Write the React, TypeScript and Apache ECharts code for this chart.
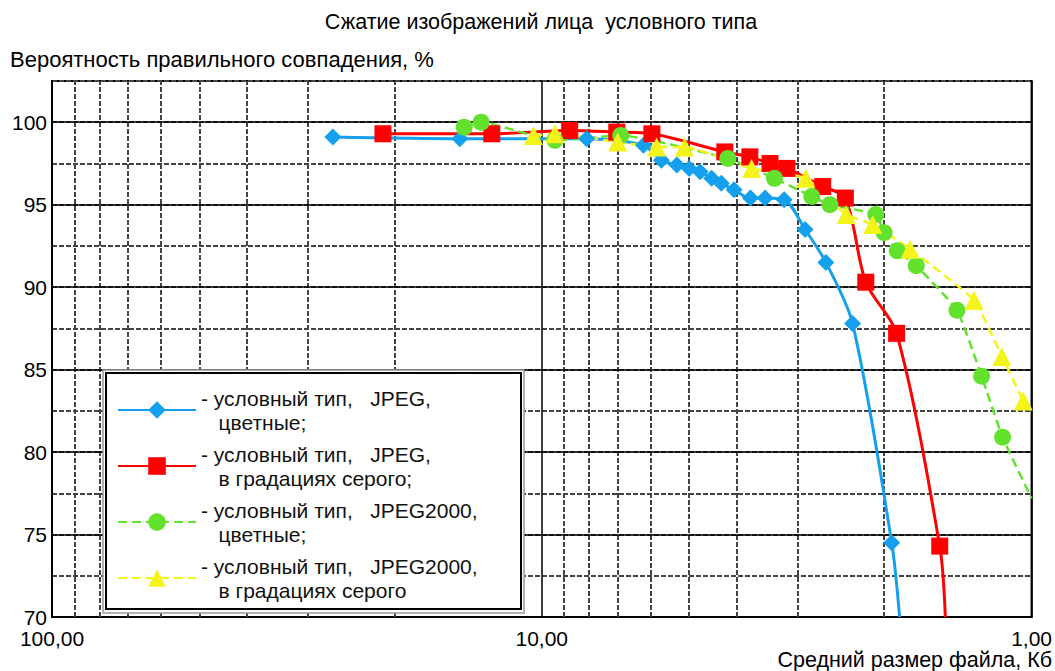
import React, { useEffect, useRef } from "react";
import * as echarts from "echarts";

// ---- data ----
const seriesNames = [
  "- условный тип,   JPEG,\n   цветные;",
  "- условный тип,   JPEG,\n   в градациях серого;",
  "- условный тип,   JPEG2000,\n   цветные;",
  "- условный тип,   JPEG2000,\n   в градациях серого",
];

const blueX = [26.7, 14.7, 8.1, 6.2, 5.7, 5.3, 5.0, 4.75, 4.5, 4.3, 4.05, 3.75, 3.5, 3.2, 2.9, 2.63, 2.32, 1.93, 1.86];
const blueY = [99.1, 99.0, 99.0, 98.6, 97.7, 97.4, 97.2, 97.0, 96.6, 96.3, 95.9, 95.4, 95.4, 95.3, 93.5, 91.5, 87.8, 74.5, 70.0];

const redX = [21.1, 12.65, 8.77, 7.03, 5.96, 4.23, 3.76, 3.42, 3.16, 2.67, 2.4, 2.18, 1.886, 1.54, 1.5];
const redY = [99.3, 99.3, 99.5, 99.4, 99.3, 98.2, 97.9, 97.5, 97.2, 96.1, 95.4, 90.3, 87.2, 74.3, 70.0];

const greenX = [14.4, 13.3, 9.4, 6.9, 4.17, 3.35, 2.81, 2.58, 2.08, 2.0, 1.88, 1.72, 1.42, 1.265, 1.146, 1.0];
const greenY = [99.7, 100.0, 98.9, 99.2, 97.8, 96.6, 95.5, 95.0, 94.4, 93.3, 92.2, 91.3, 88.6, 84.6, 80.9, 77.2];

const yellowX = [10.4, 9.4, 7.0, 5.83, 5.11, 3.73, 2.89, 2.39, 2.11, 1.77, 1.31, 1.15, 1.04];
const yellowY = [99.2, 99.3, 98.8, 98.5, 98.5, 97.2, 96.6, 94.4, 93.8, 92.3, 89.2, 85.8, 83.1];

// last points of these series carry no marker (line continues to the frame)
const blueEndsOpen = true;
const redEndsOpen = true;
const greenEndsOpen = true;

const xMinorGrid = [90, 80, 70, 60, 50, 40, 30, 20, 9, 8, 7, 6, 5, 4, 3, 2];
const ySolidGrid = [75, 80, 85, 90, 95, 100];

const titleText = "Сжатие изображений лица  условного типа";
const yTitle = "Вероятность правильного совпадения, %";
const xTitle = "Средний размер файла, Кб";

const FONT = "'Liberation Sans', Arial, sans-serif";

function zip(xs: number[], ys: number[], openEnd: boolean) {
  return xs.map((x, i) => {
    const item: any = { value: [x, ys[i]] };
    if (openEnd && i === xs.length - 1) item.symbolSize = 0;
    return item;
  });
}

export default function App() {
  const ref = useRef<HTMLDivElement>(null);

  useEffect(() => {
    if (!ref.current) return;
    const chart = echarts.init(ref.current, null, { renderer: "svg" });

    const option: any = {
      animation: false,
      backgroundColor: "#ffffff",
      textStyle: { fontFamily: FONT },
      grid: {
        left: 52,
        right: 23,
        top: 81,
        bottom: 54,
        show: true,
        borderColor: "#000",
        borderWidth: 2,
        backgroundColor: "transparent",
      },
      xAxis: {
        type: "log",
        logBase: 10,
        min: 1,
        max: 100,
        inverse: true,
        axisLine: { show: true, lineStyle: { color: "#000", width: 2 } },
        axisTick: { show: false },
        axisLabel: {
          color: "#000",
          fontSize: 21,
          lineHeight: 18,
          fontFamily: FONT,
          margin: 12,
          showMinLabel: true,
          showMaxLabel: true,
          formatter: (v: number) => v.toFixed(2).replace(".", ","),
        },
        splitLine: { show: true, lineStyle: { color: "#000", width: 1.5 } },
      },
      yAxis: {
        type: "value",
        min: 70,
        max: 102.5,
        interval: 2.5,
        axisLine: { show: true, lineStyle: { color: "#000", width: 2 } },
        axisTick: { show: false },
        axisLabel: {
          color: "#000",
          fontSize: 21,
          lineHeight: 16,
          fontFamily: FONT,
          margin: 5,
          padding: [0, 0, 4, 0],
          formatter: (v: number) => (Math.abs(v % 5) < 1e-6 ? String(v) : ""),
        },
        splitLine: {
          show: true,
          lineStyle: { color: "#444", width: 2, type: [5, 2] },
        },
      },
      legend: {
        orient: "vertical",
        left: 117,
        top: 374,
        padding: 0,
        itemWidth: 78,
        itemHeight: 22,
        itemGap: -16,
        z: 6,
        data: seriesNames,
        textStyle: {
          fontFamily: FONT,
          fontSize: 21,
          color: "#111",
          lineHeight: 24,
          padding: [24, 0, 0, 0],
        },
      },
      graphic: {
        elements: [
          {
            type: "rect",
            z: 3,
            silent: true,
            shape: { x: 103, y: 370, width: 421, height: 243 },
            style: { fill: "#fff", stroke: "#999", lineWidth: 1.5 },
          },
          {
            type: "rect",
            z: 3,
            silent: true,
            shape: { x: 106, y: 373, width: 415, height: 236 },
            style: { fill: "#fff", stroke: "#000", lineWidth: 2 },
          },
          {
            type: "text",
            z: 10,
            x: 541,
            y: 22,
            style: {
              text: titleText,
              font: `21.5px ${FONT}`,
              fill: "#000",
              align: "center",
              textAlign: "center",
              verticalAlign: "middle",
              textVerticalAlign: "middle",
            },
          },
          {
            type: "text",
            z: 10,
            x: 10,
            y: 59,
            style: {
              text: yTitle,
              font: `22px ${FONT}`,
              fill: "#000",
              align: "left",
              textAlign: "left",
              verticalAlign: "middle",
              textVerticalAlign: "middle",
            },
          },
          {
            type: "text",
            z: 10,
            x: 1052,
            y: 660,
            style: {
              text: xTitle,
              font: `21.5px ${FONT}`,
              fill: "#000",
              align: "right",
              textAlign: "right",
              verticalAlign: "middle",
              textVerticalAlign: "middle",
            },
          },
        ],
      },
      series: [
        {
          name: seriesNames[0],
          type: "line",
          data: zip(blueX, blueY, blueEndsOpen),
          smooth: 0.3,
          symbol: "diamond",
          symbolSize: 17,
          color: "#15a0ee",
          lineStyle: { color: "#15a0ee", width: 3 },
          itemStyle: { color: "#15a0ee" },
          z: 2,
          markLine: {
            silent: true,
            symbol: ["none", "none"],
            label: { show: false },
            z: 1,
            animation: false,
            data: [
              ...xMinorGrid.map((v) => ({
                xAxis: v,
                lineStyle: { color: "#444", width: 2, type: [5, 2] },
              })),
              ...ySolidGrid.map((v) => ({
                yAxis: v,
                lineStyle: { color: "#000", width: 1.5, type: "solid" },
              })),
            ],
          },
        },
        {
          name: seriesNames[1],
          type: "line",
          data: zip(redX, redY, redEndsOpen),
          smooth: 0.3,
          symbol: "rect",
          symbolSize: 17,
          color: "#ff0000",
          lineStyle: { color: "#ff0000", width: 3 },
          itemStyle: { color: "#ff0000" },
          z: 2,
        },
        {
          name: seriesNames[2],
          type: "line",
          data: zip(greenX, greenY, greenEndsOpen),
          smooth: 0.15,
          symbol: "circle",
          symbolSize: 17,
          color: "#62e22c",
          lineStyle: { color: "#62e22c", width: 2.5, type: [9, 5] },
          itemStyle: { color: "#62e22c" },
          z: 2,
        },
        {
          name: seriesNames[3],
          type: "line",
          data: zip(yellowX, yellowY, false),
          smooth: 0.15,
          symbol: "triangle",
          symbolSize: 19,
          color: "#f4f41a",
          lineStyle: { color: "#f4f41a", width: 2.5, type: [9, 5] },
          itemStyle: { color: "#f4f41a" },
          z: 2,
        },
      ],
    };

    chart.setOption(option);
    return () => chart.dispose();
  }, []);

  return (
    <div
      ref={ref}
      style={{ position: "fixed", left: 0, top: 0, width: 1055, height: 671 }}
    />
  );
}
